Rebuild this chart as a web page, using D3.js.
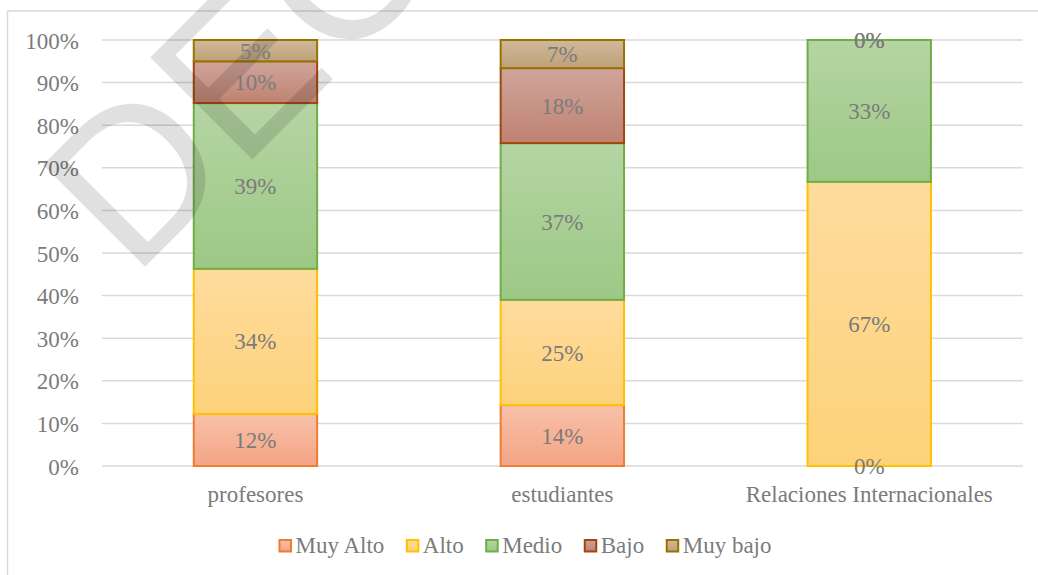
<!DOCTYPE html>
<html>
<head>
<meta charset="utf-8">
<script src="https://cdn.jsdelivr.net/npm/d3@7/dist/d3.min.js"></script>
<style>
  html, body { margin: 0; padding: 0; background: #fff; }
  svg { display: block; }
  svg text { font-family: 'Liberation Serif', 'Times New Roman', serif; fill: #7b7b7b; }
</style>
</head>
<body>
<div id="chart"></div>
<script>
// data (percent of each group)
const categories = ["profesores", "estudiantes", "Relaciones Internacionales"];
const seriesNames = ["Muy Alto", "Alto", "Medio", "Bajo", "Muy bajo"];
const muyAlto = [12.2, 14.3, 0];
const alto    = [34.1, 24.7, 66.7];
const medio   = [38.9, 36.8, 33.3];
const bajo    = [9.8, 17.6, 0];
const muyBajo = [5.0, 6.6, 0];
const yTicks  = [0, 10, 20, 30, 40, 50, 60, 70, 80, 90, 100];

const seriesValues = [muyAlto, alto, medio, bajo, muyBajo];
// stroke, gradient top, gradient bottom
const styles = [
  { stroke: "#ed7d31", top: "#f8c1aa", bottom: "#f4a484" },
  { stroke: "#ffc000", top: "#ffdc9e", bottom: "#fdd27a" },
  { stroke: "#70ad47", top: "#b5d5a3", bottom: "#9dc886" },
  { stroke: "#9e480e", top: "#cfa59c", bottom: "#bf8271" },
  { stroke: "#997300", top: "#d0b89b", bottom: "#bda177" }
];

const width = 1038, height = 575;
const fontSize = 23;
const serif = "'Liberation Serif', 'Times New Roman', serif";

const svg = d3.select("#chart").append("svg")
  .attr("width", width)
  .attr("height", height);

// gradients
const defs = svg.append("defs");
styles.forEach(function (s, i) {
  let g = defs.append("linearGradient")
    .attr("id", "grad" + i)
    .attr("x1", 0).attr("y1", 0).attr("x2", 0).attr("y2", 1);
  g.append("stop").attr("offset", "0%").attr("stop-color", s.top);
  g.append("stop").attr("offset", "100%").attr("stop-color", s.bottom);
});

// chart frame (only top and left edges fall inside the picture)
svg.append("rect")
  .attr("x", 7.5).attr("y", 11)
  .attr("width", 1060).attr("height", 600)
  .attr("fill", "none")
  .attr("stroke", "#d9d9d9")
  .attr("stroke-width", 1.5);

const x = d3.scaleBand()
  .domain(categories)
  .range([102, 1022.7])
  .paddingInner(0.598)
  .paddingOuter(0.299);

const y = d3.scaleLinear()
  .domain([0, 100])
  .range([466, 40]);

// gridlines
svg.append("g")
  .selectAll("line")
  .data(yTicks)
  .enter().append("line")
  .attr("x1", 102)
  .attr("x2", 1022.7)
  .attr("y1", d => y(d))
  .attr("y2", d => y(d))
  .attr("stroke", "#d9d9d9")
  .attr("stroke-width", 1.5);

// y axis labels
const yAxis = svg.append("g")
  .attr("transform", "translate(102,0)")
  .call(d3.axisLeft(y).tickValues(yTicks).tickSize(0).tickPadding(23).tickFormat(d => d + "%"));
yAxis.attr("font-family", null).attr("font-size", null);
yAxis.select(".domain").remove();
yAxis.selectAll("text")
  .attr("fill", "#7b7b7b")
  .style("font-size", fontSize + "px")
  .style("font-family", serif)
  .attr("dy", "0.35em");

// x axis labels
const xAxis = svg.append("g")
  .attr("transform", "translate(0,466)")
  .call(d3.axisBottom(x).tickSize(0).tickPadding(20));
xAxis.attr("font-family", null).attr("font-size", null);
xAxis.select(".domain").remove();
xAxis.selectAll("text")
  .attr("fill", "#7b7b7b")
  .style("font-size", fontSize + "px")
  .style("font-family", serif)
  .attr("dy", "0.71em");

// stacked data
const stackRows = categories.map(function (c, i) {
  let row = { cat: c };
  seriesNames.forEach(function (s, j) { row[s] = seriesValues[j][i]; });
  return row;
});
const stacked = d3.stack().keys(seriesNames)(stackRows);

const bars = svg.append("g");
stacked.forEach(function (layer, si) {
  bars.append("g")
    .selectAll("rect")
    .data(layer.filter(d => d[1] - d[0] > 0))
    .enter().append("rect")
    .attr("x", d => x(d.data.cat))
    .attr("width", x.bandwidth())
    .attr("y", d => y(d[1]))
    .attr("height", d => y(d[0]) - y(d[1]))
    .attr("fill", "url(#grad" + si + ")")
    .attr("stroke", styles[si].stroke)
    .attr("stroke-width", 2);
});

// watermark
svg.append("text")
  .attr("transform", "translate(133,279) rotate(-45)")
  .style("font-family", "'Liberation Sans', Arial, sans-serif")
  .style("font-size", "210px")
  .style("fill", "#000")
  .style("fill-opacity", 0.12)
  .text("DECO");

// data labels
const labels = svg.append("g");
stacked.forEach(function (layer, si) {
  labels.append("g")
    .selectAll("text")
    .data(layer)
    .enter().append("text")
    .attr("x", d => x(d.data.cat) + x.bandwidth() / 2)
    .attr("y", d => (y(d[0]) + y(d[1])) / 2)
    .attr("dy", "0.35em")
    .attr("text-anchor", "middle")
    .style("font-size", fontSize + "px")
    .style("font-family", serif)
    .text(d => Math.round(d[1] - d[0]) + "%");
});

// legend
const legend = svg.append("g");
let lx = 0;
seriesNames.forEach(function (name, i) {
  let item = legend.append("g").attr("transform", "translate(" + lx + ",0)");
  item.append("rect")
    .attr("x", 1).attr("y", 540)
    .attr("width", 11.5).attr("height", 11.5)
    .attr("fill", "url(#grad" + i + ")")
    .attr("stroke", styles[i].stroke)
    .attr("stroke-width", 2);
  let t = item.append("text")
    .attr("x", 17)
    .attr("y", 553)
    .style("font-size", fontSize + "px")
    .style("font-family", serif)
    .text(name);
  lx += 17 + t.node().getComputedTextLength() + 21.5;
});
const legendWidth = lx - 21.5;
legend.attr("transform", "translate(" + (525 - legendWidth / 2) + ",0)");
</script>
</body>
</html>
